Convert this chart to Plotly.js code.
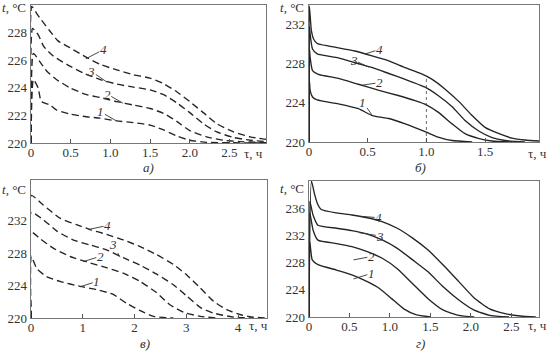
<!DOCTYPE html>
<html><head><meta charset="utf-8">
<script src="https://cdn.plot.ly/plotly-3.0.1.min.js"></script>
<style>html,body{margin:0;padding:0;background:#fff}#c{width:547px;height:355px}</style>
</head><body><div id="c"></div>
<script>
// Panel а (dashed)
const a_tau1=[0,0.03,0.09,0.13,0.24,0.32,0.49,0.70,0.87,1.08,1.29,1.5,1.67,1.84,2.0,2.21,2.97];
const a_t1=[220,224.6,224.0,223.0,222.76,222.4,222.1,221.9,221.8,221.6,221.48,221.3,220.95,220.5,220.2,220.05,220];
const a_tau2=[0,0.03,0.11,0.2,0.32,0.49,0.7,0.87,1.08,1.29,1.5,1.67,1.84,2.0,2.21,2.42,2.63,2.97];
const a_t2=[220,226.5,225.9,225.2,224.6,224.0,223.5,223.3,223.0,222.75,222.5,222.15,221.55,220.9,220.45,220.2,220.1,220.02];
const a_tau3=[0,0.02,0.09,0.16,0.28,0.45,0.66,0.87,1.08,1.29,1.5,1.67,1.84,2.0,2.17,2.34,2.55,2.76,2.97];
const a_t3=[220,228.3,227.85,227.0,226.3,225.7,225.07,224.6,224.27,224.05,223.85,223.5,222.9,222.2,221.4,220.8,220.4,220.2,220.1];
const a_tau4=[0,0.01,0.07,0.11,0.24,0.34,0.49,0.70,0.87,1.08,1.29,1.5,1.67,1.84,2.0,2.17,2.34,2.55,2.76,2.97];
const a_t4=[220,229.9,229.4,229.07,228.1,227.4,226.9,226.2,225.7,225.3,224.95,224.7,224.3,223.7,223.0,222.2,221.4,220.8,220.45,220.25];
// Panel б (solid)
const b_tau1=[0,0.004,0.01,0.03,0.07,0.25,0.42,0.54,0.68,0.82,1.0,1.1,1.22,1.39];
const b_t1=[220,226.2,225.25,224.6,224.3,223.9,223.4,222.7,222.4,221.85,221.0,220.5,220.15,220.0];
const b_tau2=[0,0.004,0.01,0.03,0.08,0.25,0.42,0.59,0.76,0.91,1.0,1.1,1.22,1.33,1.45,1.56,1.73];
const b_t2=[220,229.5,228.6,227.3,226.9,226.5,225.9,225.3,224.75,224.2,223.8,223.05,221.85,220.85,220.35,220.1,220.0];
const b_tau3=[0,0.004,0.01,0.03,0.07,0.25,0.39,0.54,0.68,0.82,0.99,1.1,1.22,1.33,1.45,1.56,1.67,1.84];
const b_t3=[220,231.8,231.0,229.5,229.0,228.6,228.1,227.6,227.0,226.4,225.6,224.75,223.6,222.2,221.1,220.45,220.15,220.0];
const b_tau4=[0,0.003,0.02,0.04,0.07,0.17,0.39,0.54,0.68,0.82,0.96,1.05,1.16,1.28,1.39,1.5,1.62,1.73,1.84,1.96];
const b_t4=[220,233.9,231.4,230.5,230.07,229.8,229.3,228.8,228.3,227.6,226.95,226.4,225.4,224.1,222.7,221.5,220.85,220.4,220.2,220.1];
const b_markTau=1.0, b_markT=226.7;
// Panel в (dashed)
const c_tau1=[0,0.005,0.11,0.3,0.56,0.95,1.27,1.59,1.85,2.11,2.37,2.75];
const c_t1=[220,227.6,226.1,225.1,224.5,223.9,223.5,222.9,221.8,220.9,220.2,220];
const c_tau2=[0,0.005,0.17,0.43,0.75,1.08,1.46,1.79,2.11,2.43,2.69,2.95,3.27,3.6];
const c_t2=[220,230.6,229.8,228.6,227.6,226.9,226.2,225.5,224.5,223.1,221.6,220.7,220.2,220];
const c_tau3=[0,0.005,0.24,0.5,0.82,1.14,1.46,1.79,2.11,2.43,2.75,3.01,3.27,3.53,3.92,4.3];
const c_t3=[220,233.0,232.1,230.7,229.6,229.0,228.4,227.4,226.5,225.4,224.1,222.7,221.3,220.6,220.1,220];
const c_tau4=[0,0.005,0.24,0.56,0.88,1.14,1.46,1.79,2.11,2.43,2.75,3.01,3.27,3.53,3.79,4.05,4.3,4.56];
const c_t4=[220,235.1,233.9,232.3,231.5,230.9,230.3,229.6,228.8,227.8,226.6,225.3,223.7,222.05,221.0,220.4,220.1,220];
// Panel г (solid)
const d_tau1=[0,0.01,0.04,0.11,0.34,0.53,0.72,0.87,1.02,1.17,1.32,1.5];
const d_t1=[220,231,228.4,227.7,226.9,226.2,225.2,224.2,222.7,221.2,220.35,220];
const d_tau2=[0,0.01,0.05,0.11,0.34,0.53,0.72,0.91,1.09,1.28,1.47,1.66,1.85,2.04];
const d_t2=[220,235.3,232.8,231.3,230.8,230.35,229.6,228.6,227.1,224.9,222.7,221.0,220.25,220];
const d_tau3=[0,0.01,0.05,0.11,0.34,0.53,0.72,0.91,1.09,1.28,1.47,1.66,1.85,2.04,2.23,2.47];
const d_t3=[220,237.0,235.0,233.5,233.05,232.7,232.2,231.3,230.1,228.4,226.65,224.4,222.5,221.0,220.25,220];
const d_tau4=[0,0.03,0.07,0.11,0.15,0.34,0.53,0.72,0.91,1.09,1.28,1.47,1.66,1.85,2.04,2.23,2.42,2.61,2.8];
const d_t4=[220,240,238.0,236.5,235.8,235.3,235.0,234.6,234.0,233.05,231.6,229.85,227.6,225.2,222.8,221.2,220.5,220.15,220];

const curveLabels=['1','2','3','4'];
const aTickVals=[0,0.5,1,1.5,2,2.5], aTickText=['0','0.5','1.0','1.5','2.0','2.5'];
const bTickVals=[0,0.5,1,1.5], bTickText=['0','0.5','1.0','1.5'];
const cTickVals=[0,1,2,3,4], cTickText=['0','1','2','3','4'];
const dTickVals=[0,0.5,1,1.5,2,2.5], dTickText=['0','0.5','1.0','1.5','2.0','2.5'];
const aYVals=[220,222,224,226,228], bYVals=[220,224,228,232], cYVals=[220,224,228,232], dYVals=[220,224,228,232,236];

const LC='#242424';
const dashed={color:LC,width:1.35,dash:'7px,4px',shape:'spline',smoothing:0.5};
const solid={color:LC,width:1.35,shape:'spline',smoothing:0.5};
function tr(x,y,ax,line){return {x:x,y:y,xaxis:ax[0],yaxis:ax[1],mode:'lines',line:line,hoverinfo:'skip',showlegend:false};}
const data=[
 tr(a_tau1,a_t1,['x','y'],dashed),tr(a_tau2,a_t2,['x','y'],dashed),tr(a_tau3,a_t3,['x','y'],dashed),tr(a_tau4,a_t4,['x','y'],dashed),
 tr(b_tau1,b_t1,['x2','y2'],solid),tr(b_tau2,b_t2,['x2','y2'],solid),tr(b_tau3,b_t3,['x2','y2'],solid),tr(b_tau4,b_t4,['x2','y2'],solid),
 tr(c_tau1,c_t1,['x3','y3'],dashed),tr(c_tau2,c_t2,['x3','y3'],dashed),tr(c_tau3,c_t3,['x3','y3'],dashed),tr(c_tau4,c_t4,['x3','y3'],dashed),
 tr(d_tau1,d_t1,['x4','y4'],solid),tr(d_tau2,d_t2,['x4','y4'],solid),tr(d_tau3,d_t3,['x4','y4'],solid),tr(d_tau4,d_t4,['x4','y4'],solid)
];
const F={family:'"Liberation Serif", "Times New Roman", serif',size:13,color:'#333'};
function xa(dom,range,tv,tt,anchor){return {domain:dom,range:range,tickvals:tv,ticktext:tt,ticks:'inside',ticklen:4,tickcolor:'#555',ticklabelstandoff:-3,showline:true,mirror:true,linecolor:'#777',linewidth:1.3,showgrid:false,zeroline:false,anchor:anchor,tickfont:F,fixedrange:true};}
function ya(dom,range,tv,anchor){return {domain:dom,range:range,tickvals:tv,ticks:'',showline:true,mirror:true,linecolor:'#777',linewidth:1.3,showgrid:false,zeroline:false,anchor:anchor,tickfont:F,fixedrange:true};}
const W=547,H=355;
const px=v=>v/W, py=v=>1-v/H;
function lab(xr,yr,x,y,ax_,ay_,txt){return {xref:xr,yref:yr,axref:xr,ayref:yr,x:x,y:y,ax:ax_,ay:ay_,text:'<i>'+txt+'</i>',showarrow:true,arrowhead:0,arrowwidth:0.9,arrowcolor:'#333',font:F,borderpad:0};}
function txt(x,y,t,anchor){return {xref:'paper',yref:'paper',x:x,y:y,text:t,showarrow:false,font:F,xanchor:anchor||'center',yanchor:'middle'};}
const annotations=[
 lab('x','y',0.69,226.1,0.91,226.76,curveLabels[3]),lab('x','y',0.96,224.4,0.76,225.19,curveLabels[2]),
 lab('x','y',1.16,222.88,0.96,223.54,curveLabels[1]),lab('x','y',1.07,221.62,0.88,222.25,curveLabels[0]),
 lab('x2','y2',0.48,229.0,0.6,229.46,curveLabels[3]),lab('x2','y2',0.51,227.65,0.38,228.37,curveLabels[2]),
 lab('x2','y2',0.45,225.8,0.6,226.07,curveLabels[1]),lab('x2','y2',0.54,222.7,0.46,224.07,curveLabels[0]),
 lab('x3','y3',1.11,230.9,1.48,231.4,curveLabels[3]),lab('x3','y3',1.72,227.5,1.59,229.0,curveLabels[2]),
 lab('x3','y3',1.01,226.95,1.34,227.6,curveLabels[1]),lab('x3','y3',0.95,223.85,1.27,224.5,curveLabels[0]),
 lab('x4','y4',0.65,234.8,0.86,234.6,curveLabels[3]),lab('x4','y4',0.62,232.4,0.88,231.9,curveLabels[2]),
 lab('x4','y4',0.55,228.4,0.77,228.9,curveLabels[1]),lab('x4','y4',0.55,225.6,0.77,226.4,curveLabels[0]),
 txt(px(14),py(8),'<i>t</i>, °C'),txt(px(292),py(8),'<i>t</i>, °C'),txt(px(14),py(190),'<i>t</i>, °C'),txt(px(292),py(188),'<i>t</i>, °C'),
 txt(px(253),py(153),'τ, ч'),txt(px(537),py(153),'τ, ч'),txt(px(258),py(325),'τ, ч'),txt(px(537),py(325),'τ, ч'),
 txt(px(148),py(167),'<i>а)</i>'),txt(px(420),py(167),'<i>б)</i>'),txt(px(145),py(343),'<i>в)</i>'),txt(px(420),py(343),'<i>г)</i>')
];
const layout={width:W,height:H,margin:{l:0,r:0,t:0,b:0},paper_bgcolor:'#fff',plot_bgcolor:'#fff',font:F,showlegend:false,
 xaxis:xa([px(31),px(266)],[0,2.96],aTickVals,aTickText,'y'),yaxis:ya([py(143),py(5)],[220,230],aYVals,'x'),
 xaxis2:xa([px(309),px(539)],[0,1.96],bTickVals,bTickText,'y2'),yaxis2:ya([py(142),py(5)],[220,234],bYVals,'x2'),
 xaxis3:xa([px(31),px(267)],[0,4.56],cTickVals,cTickText,'y3'),yaxis3:ya([py(318),py(180)],[220,237],cYVals,'x3'),
 xaxis4:xa([px(309),px(539)],[0,2.84],dTickVals,dTickText,'y4'),yaxis4:ya([py(317),py(181)],[220,240],dYVals,'x4'),
 annotations:annotations,
 shapes:[{type:'line',xref:'x2',yref:'y2',x0:b_markTau,x1:b_markTau,y0:220,y1:b_markT,line:{color:'#444',width:0.8,dash:'dot'}}]
};
Plotly.newPlot('c',data,layout,{staticPlot:true,displayModeBar:false});
</script></body></html>
